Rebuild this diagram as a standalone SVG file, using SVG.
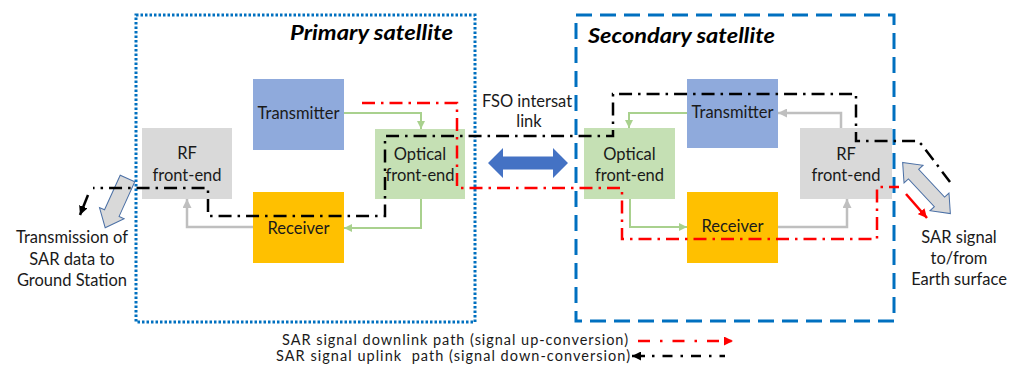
<svg xmlns="http://www.w3.org/2000/svg" width="1022" height="372" viewBox="0 0 1022 372">
  <style>
    text { font-family: Lato, "Liberation Sans", Arial, sans-serif; fill: #1a1a1a; }
    .lbl { font-size: 16.5px; text-anchor: middle; }
    .side { font-size: 16.5px; text-anchor: middle; }
    .legend { font-size: 14.5px; }
    .title { font-size: 20px; font-weight: bold; font-style: italic; fill: #000; }
    .box-tx { fill: #8faadc; }
    .box-rx { fill: #ffc000; }
    .box-of { fill: #c5e0b4; }
    .box-rf { fill: #d9d9d9; }
    .green { fill: none; stroke: #a9d18e; stroke-width: 2; }
    .grey { fill: none; stroke: #bfbfbf; stroke-width: 2.5; }
    .down { fill: none; stroke: #ff0000; stroke-width: 2.5; stroke-dasharray: 13 6 2.5 6; }
    .up { fill: none; stroke: #000; stroke-width: 2.5; stroke-dasharray: 13 6 2.5 6; }
    .solid-red { fill: none; stroke: #ff0000; stroke-width: 2.5; }
    .solid-black { fill: none; stroke: #000; stroke-width: 2.5; }
    .block { fill: #d9d9d9; stroke: #4a6fa5; stroke-width: 1; }
  </style>
  <defs>
    <marker id="ah-green" viewBox="0 0 10 10" refX="10" refY="5" markerWidth="8" markerHeight="8" markerUnits="userSpaceOnUse" orient="auto">
      <path d="M0,0 L10,5 L0,10 z" fill="#a9d18e"/>
    </marker>
    <marker id="ah-grey" viewBox="0 0 10 10" refX="10" refY="5" markerWidth="9" markerHeight="9" markerUnits="userSpaceOnUse" orient="auto">
      <path d="M0,0 L10,5 L0,10 z" fill="#bfbfbf"/>
    </marker>
    <marker id="ah-red" viewBox="0 0 10 10" refX="10" refY="5" markerWidth="9" markerHeight="9" markerUnits="userSpaceOnUse" orient="auto">
      <path d="M0,0 L10,5 L0,10 z" fill="#ff0000"/>
    </marker>
    <marker id="ah-black" viewBox="0 0 10 10" refX="10" refY="5" markerWidth="9" markerHeight="9" markerUnits="userSpaceOnUse" orient="auto">
      <path d="M0,0 L10,5 L0,10 z" fill="#000"/>
    </marker>
  </defs>

  <!-- satellite enclosures -->
  <g id="primary-satellite">
    <rect x="136" y="15" width="339" height="307" fill="none" stroke="#0070c0" stroke-width="3" stroke-dasharray="2.5 2"/>
    <text class="title" x="290" y="40" textLength="163" lengthAdjust="spacingAndGlyphs">Primary satellite</text>
  </g>
  <g id="secondary-satellite">
    <rect x="576" y="15" width="318" height="306" fill="none" stroke="#0070c0" stroke-width="3" stroke-dasharray="16 8"/>
    <text class="title" x="588" y="43" textLength="187" lengthAdjust="spacingAndGlyphs">Secondary satellite</text>
  </g>

  <!-- primary satellite blocks -->
  <g id="p-transmitter">
    <rect class="box-tx" x="253" y="79" width="91" height="71"/>
    <text class="lbl" x="298.5" y="119">Transmitter</text>
  </g>
  <g id="p-receiver">
    <rect class="box-rx" x="253" y="192" width="91" height="71"/>
    <text class="lbl" x="298.5" y="234">Receiver</text>
  </g>
  <g id="p-rf">
    <rect class="box-rf" x="142" y="128" width="90" height="71"/>
    <text class="lbl" x="187" y="159">RF</text>
    <text class="lbl" x="187" y="181">front-end</text>
  </g>
  <g id="p-optical">
    <rect class="box-of" x="375" y="129" width="90" height="70"/>
    <text class="lbl" x="420" y="160">Optical</text>
    <text class="lbl" x="420" y="181">front-end</text>
  </g>

  <!-- secondary satellite blocks -->
  <g id="s-optical">
    <rect class="box-of" x="584" y="128" width="91" height="71"/>
    <text class="lbl" x="629.5" y="160">Optical</text>
    <text class="lbl" x="629.5" y="181">front-end</text>
  </g>
  <g id="s-transmitter">
    <rect class="box-tx" x="687" y="79" width="91" height="69"/>
    <text class="lbl" x="732.5" y="118">Transmitter</text>
  </g>
  <g id="s-rf">
    <rect class="box-rf" x="800" y="128" width="92" height="71"/>
    <text class="lbl" x="846" y="160">RF</text>
    <text class="lbl" x="846" y="181">front-end</text>
  </g>
  <g id="s-receiver">
    <rect class="box-rx" x="687" y="192" width="91" height="71"/>
    <text class="lbl" x="732.5" y="232">Receiver</text>
  </g>

  <!-- intersatellite optical link -->
  <g id="fso-link">
    <polygon points="488,163 503,148 503,156.5 553,156.5 553,148 568,163 553,178 553,169.5 503,169.5 503,178" fill="#4472c4"/>
    <text class="lbl" x="527" y="107">FSO intersat</text>
    <text class="lbl" x="529" y="127">link</text>
  </g>

  <!-- ground / earth links -->
  <g id="ground-link">
    <polygon class="block" transform="translate(127.5,178.5) rotate(114.4)" points="0,-8 38,-8 38,-13.5 54,0 38,13.5 38,8 0,8"/>
    <text class="side" x="72" y="243">Transmission of</text>
    <text class="side" x="72" y="265">SAR data to</text>
    <text class="side" x="72" y="286">Ground Station</text>
  </g>
  <g id="earth-link">
    <polygon class="block" transform="translate(926.5,188) rotate(47)" points="-35,0 -19,-13 -19,-7 19,-7 19,-13 35,0 19,13 19,7 -19,7 -19,13"/>
    <text class="side" x="959" y="243">SAR signal</text>
    <text class="side" x="959" y="264">to/from</text>
    <text class="side" x="959" y="285">Earth surface</text>
  </g>

  <!-- connectors -->
  <g id="connectors">
    <path class="green" d="M344 113 H421 V129" marker-end="url(#ah-green)"/>
    <path class="green" d="M421 199 V228 H344" marker-end="url(#ah-green)"/>
    <path class="grey" d="M253 227 H187 V199" marker-end="url(#ah-grey)"/>
    <path class="green" d="M687 113 H629 V128" marker-end="url(#ah-green)"/>
    <path class="grey" d="M841 128 V113 H778" marker-end="url(#ah-grey)"/>
    <path class="green" d="M630 199 V227 H687" marker-end="url(#ah-green)"/>
    <path class="grey" d="M778 227 H847 V199" marker-end="url(#ah-grey)"/>

    <!-- downlink path (up-conversion) -->
    <path class="down" d="M362 103 H457 V188 H622 V239 H877 V187 H899"/>
    <path class="solid-red" d="M906 194 L927 218" marker-end="url(#ah-red)"/>

    <!-- uplink path (down-conversion) -->
    <path class="up" d="M950 182 L922 145 L918 141 H856 V94 H613 V136 H385 V216 H208 V188 H93"/>
    <path class="solid-black" d="M88 195 L80 215" marker-end="url(#ah-black)"/>
  </g>

  <!-- legend -->
  <g id="legend">
    <text class="legend" x="282" y="345" textLength="346">SAR signal downlink path (signal up-conversion)</text>
    <text class="legend" x="276" y="361" textLength="354" xml:space="preserve">SAR signal uplink  path (signal down-conversion)</text>
    <path class="down" d="M638 341 H733" style="stroke-dasharray: 12 10 2.5 10" marker-end="url(#ah-red)"/>
    <path class="solid-black" d="M645 356 H632" marker-end="url(#ah-black)"/>
    <path class="up" d="M652 356 H725" style="stroke-dasharray: 2.5 8 10 8"/>
  </g>
</svg>
